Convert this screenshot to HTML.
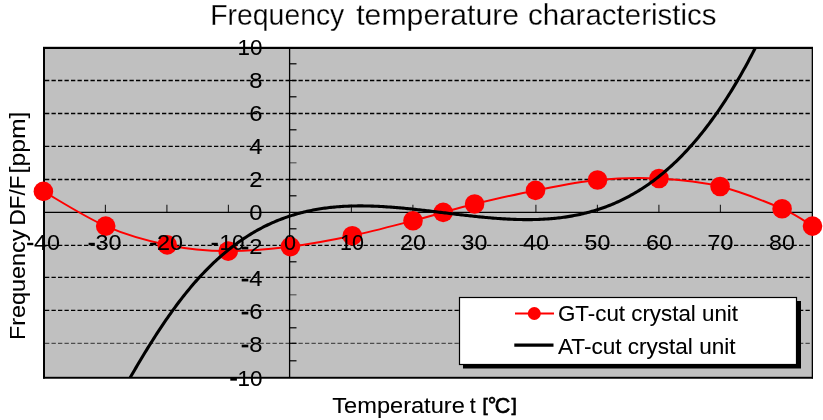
<!DOCTYPE html>
<html><head><meta charset="utf-8"><title>Frequency temperature characteristics</title>
<style>html,body{margin:0;padding:0;background:#fff;}body{width:823px;height:420px;overflow:hidden;font-family:"Liberation Sans",sans-serif;}svg{display:block;will-change:transform;}text{font-family:"Liberation Sans",sans-serif;}</style>
</head><body>
<svg width="823" height="420" viewBox="0 0 823 420">
<rect x="0" y="0" width="823" height="420" fill="#ffffff"/>
<defs><clipPath id="pc"><rect x="43" y="47" width="770" height="331"/></clipPath></defs>
<rect x="43" y="47" width="770" height="331.5" fill="#c0c0c0"/>
<line x1="45" x2="812" y1="343.3" y2="343.3" stroke="#000" stroke-width="1.3" stroke-dasharray="4.3 2.2" stroke-opacity="0.6"/>
<line x1="45" x2="812" y1="310.4" y2="310.4" stroke="#000" stroke-width="1.3" stroke-dasharray="4.3 2.2"/>
<line x1="45" x2="812" y1="277.4" y2="277.4" stroke="#000" stroke-width="1.3" stroke-dasharray="4.3 2.2"/>
<line x1="45" x2="812" y1="245.3" y2="245.3" stroke="#000" stroke-width="1.3" stroke-dasharray="4.3 2.2"/>
<line x1="45" x2="812" y1="179.5" y2="179.5" stroke="#000" stroke-width="1.3" stroke-dasharray="4.3 2.2"/>
<line x1="45" x2="812" y1="146.3" y2="146.3" stroke="#000" stroke-width="1.3" stroke-dasharray="4.3 2.2"/>
<line x1="45" x2="812" y1="113.5" y2="113.5" stroke="#000" stroke-width="1.3" stroke-dasharray="4.3 2.2"/>
<line x1="45" x2="812" y1="80.5" y2="80.5" stroke="#000" stroke-width="1.3" stroke-dasharray="4.3 2.2"/>
<rect x="43" y="47" width="2" height="331.5" fill="#000"/>
<rect x="43" y="46.8" width="770" height="2.2" fill="#000"/>
<rect x="811.7" y="47" width="1.3" height="331.5" fill="#000"/>
<rect x="43" y="376.8" width="770" height="1.9" fill="#000"/>
<line x1="44" x2="812" y1="212.3" y2="212.3" stroke="#000" stroke-width="1.3"/>
<line x1="289.6" x2="289.6" y1="48" y2="377" stroke="#000" stroke-width="1.3"/>
<line x1="105.4" x2="105.4" y1="204.8" y2="212.3" stroke="#000" stroke-width="1.1" stroke-opacity="0.85"/>
<line x1="166.9" x2="166.9" y1="204.8" y2="212.3" stroke="#000" stroke-width="1.1" stroke-opacity="0.85"/>
<line x1="228.4" x2="228.4" y1="204.8" y2="212.3" stroke="#000" stroke-width="1.1" stroke-opacity="0.85"/>
<line x1="351.4" x2="351.4" y1="204.8" y2="212.3" stroke="#000" stroke-width="1.1" stroke-opacity="0.85"/>
<line x1="412.9" x2="412.9" y1="204.8" y2="212.3" stroke="#000" stroke-width="1.1" stroke-opacity="0.85"/>
<line x1="474.4" x2="474.4" y1="204.8" y2="212.3" stroke="#000" stroke-width="1.1" stroke-opacity="0.85"/>
<line x1="535.9" x2="535.9" y1="204.8" y2="212.3" stroke="#000" stroke-width="1.1" stroke-opacity="0.85"/>
<line x1="597.4" x2="597.4" y1="204.8" y2="212.3" stroke="#000" stroke-width="1.1" stroke-opacity="0.85"/>
<line x1="658.9" x2="658.9" y1="204.8" y2="212.3" stroke="#000" stroke-width="1.1" stroke-opacity="0.85"/>
<line x1="720.4" x2="720.4" y1="204.8" y2="212.3" stroke="#000" stroke-width="1.1" stroke-opacity="0.85"/>
<line x1="781.9" x2="781.9" y1="204.8" y2="212.3" stroke="#000" stroke-width="1.1" stroke-opacity="0.85"/>
<line x1="289.6" x2="296.5" y1="360.8" y2="360.8" stroke="#000" stroke-width="1.2"/>
<line x1="289.6" x2="296.5" y1="343.3" y2="343.3" stroke="#000" stroke-width="1.2"/>
<line x1="289.6" x2="296.5" y1="327.8" y2="327.8" stroke="#000" stroke-width="1.2"/>
<line x1="289.6" x2="296.5" y1="310.4" y2="310.4" stroke="#000" stroke-width="1.2"/>
<line x1="289.6" x2="296.5" y1="294.8" y2="294.8" stroke="#000" stroke-width="1.2" stroke-opacity="0.55"/>
<line x1="289.6" x2="296.5" y1="277.4" y2="277.4" stroke="#000" stroke-width="1.2"/>
<line x1="289.6" x2="296.5" y1="261.8" y2="261.8" stroke="#000" stroke-width="1.2"/>
<line x1="289.6" x2="296.5" y1="245.3" y2="245.3" stroke="#000" stroke-width="1.2"/>
<line x1="289.6" x2="296.5" y1="228.8" y2="228.8" stroke="#000" stroke-width="1.2"/>
<line x1="289.6" x2="296.5" y1="195.8" y2="195.8" stroke="#000" stroke-width="1.2"/>
<line x1="289.6" x2="296.5" y1="179.5" y2="179.5" stroke="#000" stroke-width="1.2"/>
<line x1="289.6" x2="296.5" y1="162.8" y2="162.8" stroke="#000" stroke-width="1.2" stroke-opacity="0.55"/>
<line x1="289.6" x2="296.5" y1="146.3" y2="146.3" stroke="#000" stroke-width="1.2"/>
<line x1="289.6" x2="296.5" y1="129.8" y2="129.8" stroke="#000" stroke-width="1.2"/>
<line x1="289.6" x2="296.5" y1="113.5" y2="113.5" stroke="#000" stroke-width="1.2"/>
<line x1="289.6" x2="296.5" y1="96.8" y2="96.8" stroke="#000" stroke-width="1.2"/>
<line x1="289.6" x2="296.5" y1="80.5" y2="80.5" stroke="#000" stroke-width="1.2"/>
<line x1="289.6" x2="296.5" y1="63.8" y2="63.8" stroke="#000" stroke-width="1.2"/>
<path d="M43.40,191.40 C53.78,197.18 85.07,217.18 105.70,226.10 C126.33,235.02 146.78,240.73 167.20,244.90 C187.62,249.07 207.67,250.82 228.20,251.10 C248.73,251.38 269.72,249.17 290.40,246.60 C311.08,244.03 331.87,240.02 352.30,235.70 C372.73,231.38 397.85,224.58 413.00,220.70 C428.15,216.82 432.93,215.18 443.20,212.40 C453.47,209.62 459.22,207.67 474.60,204.00 C489.98,200.33 515.02,194.40 535.50,190.40 C555.98,186.40 576.92,181.98 597.50,180.00 C618.08,178.02 638.57,177.42 659.00,178.50 C679.43,179.58 699.58,181.47 720.10,186.50 C740.62,191.53 766.70,202.10 782.10,208.70 C797.50,215.30 807.43,223.20 812.50,226.10" fill="none" stroke="#ff0000" stroke-width="2.0" stroke-linejoin="round"/>
<circle cx="43.4" cy="191.4" r="9.8" fill="#ff0000"/>
<circle cx="105.7" cy="226.1" r="9.8" fill="#ff0000"/>
<circle cx="167.2" cy="244.9" r="9.8" fill="#ff0000"/>
<circle cx="228.2" cy="251.1" r="9.8" fill="#ff0000"/>
<circle cx="290.4" cy="246.6" r="9.8" fill="#ff0000"/>
<circle cx="352.3" cy="235.7" r="9.8" fill="#ff0000"/>
<circle cx="413.0" cy="220.7" r="9.8" fill="#ff0000"/>
<circle cx="443.2" cy="212.4" r="9.8" fill="#ff0000"/>
<circle cx="474.6" cy="204.0" r="9.8" fill="#ff0000"/>
<circle cx="535.5" cy="190.4" r="9.8" fill="#ff0000"/>
<circle cx="597.5" cy="180.0" r="9.8" fill="#ff0000"/>
<circle cx="659.0" cy="178.5" r="9.8" fill="#ff0000"/>
<circle cx="720.1" cy="186.5" r="9.8" fill="#ff0000"/>
<circle cx="782.1" cy="208.7" r="9.8" fill="#ff0000"/>
<circle cx="812.5" cy="226.1" r="9.8" fill="#ff0000"/>
<path d="M124.0,388.37 L125.5,385.74 L127.0,383.12 L128.5,380.50 L130.0,377.90 L131.5,375.31 L133.0,372.73 L134.5,370.16 L136.0,367.60 L137.5,365.05 L139.0,362.52 L140.5,360.01 L142.0,357.51 L143.5,355.02 L145.0,352.55 L146.5,350.10 L148.0,347.66 L149.5,345.25 L151.0,342.85 L152.5,340.47 L154.0,338.11 L155.5,335.77 L157.0,333.45 L158.5,331.14 L160.0,328.87 L161.5,326.61 L163.0,324.37 L164.5,322.16 L166.0,319.97 L167.5,317.80 L169.0,315.65 L170.5,313.53 L172.0,311.43 L173.5,309.35 L175.0,307.30 L176.5,305.27 L178.0,303.27 L179.5,301.29 L181.0,299.34 L182.5,297.40 L184.0,295.50 L185.5,293.62 L187.0,291.76 L188.5,289.93 L190.0,288.12 L191.5,286.34 L193.0,284.58 L194.5,282.84 L196.0,281.13 L197.5,279.45 L199.0,277.79 L200.5,276.15 L202.0,274.54 L203.5,272.95 L205.0,271.38 L206.5,269.84 L208.0,268.32 L209.5,266.82 L211.0,265.35 L212.5,263.89 L214.0,262.47 L215.5,261.06 L217.0,259.68 L218.5,258.32 L220.0,256.98 L221.5,255.66 L223.0,254.36 L224.5,253.09 L226.0,251.83 L227.5,250.60 L229.0,249.39 L230.5,248.20 L232.0,247.03 L233.5,245.88 L235.0,244.76 L236.5,243.65 L238.0,242.56 L239.5,241.49 L241.0,240.44 L242.5,239.42 L244.0,238.41 L245.5,237.42 L247.0,236.44 L248.5,235.49 L250.0,234.56 L251.5,233.65 L253.0,232.75 L254.5,231.87 L256.0,231.01 L257.5,230.17 L259.0,229.35 L260.5,228.54 L262.0,227.75 L263.5,226.98 L265.0,226.22 L266.5,225.49 L268.0,224.77 L269.5,224.06 L271.0,223.37 L272.5,222.70 L274.0,222.05 L275.5,221.41 L277.0,220.78 L278.5,220.18 L280.0,219.58 L281.5,219.01 L283.0,218.44 L284.5,217.90 L286.0,217.36 L287.5,216.84 L289.0,216.34 L290.5,215.85 L292.0,215.38 L293.5,214.91 L295.0,214.47 L296.5,214.03 L298.0,213.61 L299.5,213.20 L301.0,212.81 L302.5,212.43 L304.0,212.06 L305.5,211.70 L307.0,211.36 L308.5,211.02 L310.0,210.70 L311.5,210.40 L313.0,210.10 L314.5,209.82 L316.0,209.54 L317.5,209.28 L319.0,209.03 L320.5,208.79 L322.0,208.56 L323.5,208.34 L325.0,208.14 L326.5,207.94 L328.0,207.75 L329.5,207.57 L331.0,207.41 L332.5,207.25 L334.0,207.10 L335.5,206.96 L337.0,206.83 L338.5,206.71 L340.0,206.60 L341.5,206.50 L343.0,206.41 L344.5,206.32 L346.0,206.24 L347.5,206.18 L349.0,206.12 L350.5,206.06 L352.0,206.02 L353.5,205.98 L355.0,205.95 L356.5,205.93 L358.0,205.92 L359.5,205.91 L361.0,205.91 L362.5,205.91 L364.0,205.93 L365.5,205.94 L367.0,205.97 L368.5,206.00 L370.0,206.04 L371.5,206.08 L373.0,206.13 L374.5,206.19 L376.0,206.25 L377.5,206.32 L379.0,206.39 L380.5,206.47 L382.0,206.55 L383.5,206.64 L385.0,206.73 L386.5,206.83 L388.0,206.93 L389.5,207.03 L391.0,207.14 L392.5,207.26 L394.0,207.37 L395.5,207.50 L397.0,207.62 L398.5,207.75 L400.0,207.88 L401.5,208.02 L403.0,208.16 L404.5,208.30 L406.0,208.45 L407.5,208.59 L409.0,208.75 L410.5,208.90 L412.0,209.06 L413.5,209.21 L415.0,209.38 L416.5,209.54 L418.0,209.70 L419.5,209.87 L421.0,210.04 L422.5,210.21 L424.0,210.38 L425.5,210.56 L427.0,210.73 L428.5,210.91 L430.0,211.09 L431.5,211.26 L433.0,211.44 L434.5,211.62 L436.0,211.80 L437.5,211.99 L439.0,212.17 L440.5,212.35 L442.0,212.53 L443.5,212.71 L445.0,212.90 L446.5,213.08 L448.0,213.26 L449.5,213.44 L451.0,213.63 L452.5,213.81 L454.0,213.99 L455.5,214.17 L457.0,214.35 L458.5,214.52 L460.0,214.70 L461.5,214.88 L463.0,215.05 L464.5,215.22 L466.0,215.39 L467.5,215.56 L469.0,215.73 L470.5,215.90 L472.0,216.06 L473.5,216.22 L475.0,216.38 L476.5,216.54 L478.0,216.70 L479.5,216.85 L481.0,217.00 L482.5,217.15 L484.0,217.29 L485.5,217.43 L487.0,217.57 L488.5,217.70 L490.0,217.83 L491.5,217.96 L493.0,218.08 L494.5,218.20 L496.0,218.32 L497.5,218.43 L499.0,218.54 L500.5,218.64 L502.0,218.74 L503.5,218.83 L505.0,218.92 L506.5,219.01 L508.0,219.09 L509.5,219.16 L511.0,219.23 L512.5,219.30 L514.0,219.35 L515.5,219.41 L517.0,219.45 L518.5,219.49 L520.0,219.53 L521.5,219.56 L523.0,219.58 L524.5,219.60 L526.0,219.61 L527.5,219.61 L529.0,219.61 L530.5,219.60 L532.0,219.58 L533.5,219.55 L535.0,219.52 L536.5,219.48 L538.0,219.43 L539.5,219.38 L541.0,219.31 L542.5,219.24 L544.0,219.16 L545.5,219.07 L547.0,218.98 L548.5,218.87 L550.0,218.75 L551.5,218.63 L553.0,218.50 L554.5,218.36 L556.0,218.21 L557.5,218.04 L559.0,217.87 L560.5,217.69 L562.0,217.50 L563.5,217.30 L565.0,217.09 L566.5,216.87 L568.0,216.64 L569.5,216.40 L571.0,216.14 L572.5,215.88 L574.0,215.60 L575.5,215.31 L577.0,215.01 L578.5,214.70 L580.0,214.38 L581.5,214.05 L583.0,213.70 L584.5,213.34 L586.0,212.97 L587.5,212.58 L589.0,212.19 L590.5,211.78 L592.0,211.36 L593.5,210.92 L595.0,210.47 L596.5,210.01 L598.0,209.53 L599.5,209.04 L601.0,208.53 L602.5,208.01 L604.0,207.48 L605.5,206.93 L607.0,206.37 L608.5,205.79 L610.0,205.20 L611.5,204.59 L613.0,203.96 L614.5,203.32 L616.0,202.67 L617.5,202.00 L619.0,201.31 L620.5,200.61 L622.0,199.89 L623.5,199.15 L625.0,198.40 L626.5,197.62 L628.0,196.84 L629.5,196.03 L631.0,195.21 L632.5,194.37 L634.0,193.51 L635.5,192.64 L637.0,191.74 L638.5,190.83 L640.0,189.90 L641.5,188.95 L643.0,187.98 L644.5,186.99 L646.0,185.98 L647.5,184.96 L649.0,183.91 L650.5,182.85 L652.0,181.76 L653.5,180.65 L655.0,179.53 L656.5,178.38 L658.0,177.21 L659.5,176.02 L661.0,174.81 L662.5,173.58 L664.0,172.33 L665.5,171.05 L667.0,169.76 L668.5,168.44 L670.0,167.10 L671.5,165.74 L673.0,164.35 L674.5,162.94 L676.0,161.51 L677.5,160.06 L679.0,158.58 L680.5,157.08 L682.0,155.55 L683.5,154.00 L685.0,152.43 L686.5,150.83 L688.0,149.21 L689.5,147.56 L691.0,145.89 L692.5,144.20 L694.0,142.47 L695.5,140.73 L697.0,138.95 L698.5,137.15 L700.0,135.33 L701.5,133.48 L703.0,131.60 L704.5,129.69 L706.0,127.76 L707.5,125.80 L709.0,123.81 L710.5,121.80 L712.0,119.76 L713.5,117.69 L715.0,115.59 L716.5,113.46 L718.0,111.31 L719.5,109.13 L721.0,106.91 L722.5,104.67 L724.0,102.40 L725.5,100.10 L727.0,97.77 L728.5,95.41 L730.0,93.02 L731.5,90.60 L733.0,88.14 L734.5,85.66 L736.0,83.15 L737.5,80.60 L739.0,78.03 L740.5,75.42 L742.0,72.78 L743.5,70.10 L745.0,67.40 L746.5,64.66 L748.0,61.89 L749.5,59.09 L751.0,56.25 L752.5,53.38 L754.0,50.48 L755.5,47.54 L757.0,44.57 L758.5,41.56 L760.0,38.52 L761.5,35.45" fill="none" stroke="#000" stroke-width="3.1" stroke-linejoin="round" clip-path="url(#pc)"/>
<rect x="463" y="301" width="338" height="67.5" fill="#000"/>
<rect x="459.5" y="297.5" width="337" height="67" fill="#fff" stroke="#000" stroke-width="1.2"/>
<line x1="515" x2="554" y1="313.5" y2="313.5" stroke="#ff0000" stroke-width="2.2"/>
<circle cx="534.3" cy="313.5" r="6.5" fill="#ff0000"/>
<line x1="514.3" x2="553.5" y1="345.2" y2="345.2" stroke="#000" stroke-width="3.2"/>
<mask id="tm" maskUnits="userSpaceOnUse" x="0" y="0" width="823" height="420"><g fill="#fff" stroke="#000" style="paint-order:fill stroke">
<g stroke-width="0"><text x="558" y="320.9" font-size="21.5" textLength="180" lengthAdjust="spacingAndGlyphs">GT-cut crystal unit</text></g>
<g stroke-width="0"><text x="558" y="354.3" font-size="21.5" textLength="177.5" lengthAdjust="spacingAndGlyphs">AT-cut crystal unit</text></g>
<rect x="27.1" y="242.80" width="6.2" height="2.40" fill="#fff" stroke="none"/>
<g stroke-width="0"><text x="60.0" y="249.5" font-size="21.5" text-anchor="end" textLength="26.0" lengthAdjust="spacingAndGlyphs">40</text></g>
<rect x="88.6" y="242.80" width="6.2" height="2.40" fill="#fff" stroke="none"/>
<g stroke-width="0"><text x="121.5" y="249.5" font-size="21.5" text-anchor="end" textLength="26.0" lengthAdjust="spacingAndGlyphs">30</text></g>
<rect x="150.1" y="242.80" width="6.2" height="2.40" fill="#fff" stroke="none"/>
<g stroke-width="0"><text x="183.0" y="249.5" font-size="21.5" text-anchor="end" textLength="26.0" lengthAdjust="spacingAndGlyphs">20</text></g>
<rect x="211.6" y="242.80" width="6.2" height="2.40" fill="#fff" stroke="none"/>
<g stroke-width="0"><text x="244.5" y="249.5" font-size="21.5" text-anchor="end" textLength="24.9" lengthAdjust="spacingAndGlyphs">10</text></g>
<g stroke-width="0"><text x="289.9" y="249.5" font-size="21.5" text-anchor="middle" textLength="12.0" lengthAdjust="spacingAndGlyphs">0</text></g>
<g stroke-width="0"><text x="352.0" y="249.5" font-size="21.5" text-anchor="middle" textLength="23.9" lengthAdjust="spacingAndGlyphs">10</text></g>
<g stroke-width="0"><text x="412.9" y="249.5" font-size="21.5" text-anchor="middle" textLength="25.8" lengthAdjust="spacingAndGlyphs">20</text></g>
<g stroke-width="0"><text x="474.4" y="249.5" font-size="21.5" text-anchor="middle" textLength="25.8" lengthAdjust="spacingAndGlyphs">30</text></g>
<g stroke-width="0"><text x="535.9" y="249.5" font-size="21.5" text-anchor="middle" textLength="25.8" lengthAdjust="spacingAndGlyphs">40</text></g>
<g stroke-width="0"><text x="597.4" y="249.5" font-size="21.5" text-anchor="middle" textLength="25.8" lengthAdjust="spacingAndGlyphs">50</text></g>
<g stroke-width="0"><text x="658.9" y="249.5" font-size="21.5" text-anchor="middle" textLength="25.8" lengthAdjust="spacingAndGlyphs">60</text></g>
<g stroke-width="0"><text x="720.4" y="249.5" font-size="21.5" text-anchor="middle" textLength="25.8" lengthAdjust="spacingAndGlyphs">70</text></g>
<g stroke-width="0"><text x="781.9" y="249.5" font-size="21.5" text-anchor="middle" textLength="25.8" lengthAdjust="spacingAndGlyphs">80</text></g>
<g stroke-width="0"><text x="262.5" y="386.0" font-size="21.5" text-anchor="end" textLength="24.9" lengthAdjust="spacingAndGlyphs">10</text></g>
<rect x="230.3" y="377.95" width="6.6" height="2.70" fill="#fff" stroke="none"/>
<g stroke-width="0"><text x="262.5" y="352.0" font-size="21.5" text-anchor="end" textLength="13.2" lengthAdjust="spacingAndGlyphs">8</text></g>
<rect x="241.7" y="344.65" width="6.6" height="2.70" fill="#fff" stroke="none"/>
<g stroke-width="0"><text x="262.5" y="319.1" font-size="21.5" text-anchor="end" textLength="13.2" lengthAdjust="spacingAndGlyphs">6</text></g>
<rect x="241.7" y="311.75" width="6.6" height="2.70" fill="#fff" stroke="none"/>
<g stroke-width="0"><text x="262.5" y="286.1" font-size="21.5" text-anchor="end" textLength="13.2" lengthAdjust="spacingAndGlyphs">4</text></g>
<rect x="241.7" y="278.75" width="6.6" height="2.70" fill="#fff" stroke="none"/>
<g stroke-width="0"><text x="262.5" y="254.0" font-size="21.5" text-anchor="end" textLength="13.2" lengthAdjust="spacingAndGlyphs">2</text></g>
<rect x="241.7" y="246.65" width="6.6" height="2.70" fill="#fff" stroke="none"/>
<g stroke-width="0"><text x="262.5" y="220.0" font-size="21.5" text-anchor="end" textLength="13.2" lengthAdjust="spacingAndGlyphs">0</text></g>
<g stroke-width="0"><text x="262.5" y="187.2" font-size="21.5" text-anchor="end" textLength="13.2" lengthAdjust="spacingAndGlyphs">2</text></g>
<g stroke-width="0"><text x="262.5" y="154.0" font-size="21.5" text-anchor="end" textLength="13.2" lengthAdjust="spacingAndGlyphs">4</text></g>
<g stroke-width="0"><text x="262.5" y="121.2" font-size="21.5" text-anchor="end" textLength="13.2" lengthAdjust="spacingAndGlyphs">6</text></g>
<g stroke-width="0"><text x="262.5" y="88.2" font-size="21.5" text-anchor="end" textLength="13.2" lengthAdjust="spacingAndGlyphs">8</text></g>
<g stroke-width="0"><text x="262.5" y="55.0" font-size="21.5" text-anchor="end" textLength="24.9" lengthAdjust="spacingAndGlyphs">10</text></g>
<g stroke-width="0.35"><text x="210.3" y="24.9" font-size="28.6" textLength="134" lengthAdjust="spacingAndGlyphs">Frequency</text></g>
<g stroke-width="0.35"><text x="356.2" y="24.9" font-size="28.6" textLength="163" lengthAdjust="spacingAndGlyphs">temperature</text></g>
<g stroke-width="0.35"><text x="528" y="24.9" font-size="28.6" textLength="188.5" lengthAdjust="spacingAndGlyphs">characteristics</text></g>
<g stroke-width="0"><text x="332.3" y="412.7" font-size="21.5" textLength="132.5" lengthAdjust="spacingAndGlyphs">Temperature</text></g>
<g stroke-width="0"><text x="469.8" y="412.7" font-size="21.5">t</text></g>
<g stroke="#fff" stroke-width="0.5"><text x="482.6" y="410.6" font-size="19">[</text></g>
<g stroke="#fff" stroke-width="0.5"><text x="487.7" y="412.7" font-size="21.5">°</text></g>
<g stroke="#fff" stroke-width="0.5"><text x="494.8" y="412.7" font-size="21.5">C</text></g>
<g stroke="#fff" stroke-width="0.5"><text x="511.5" y="410.6" font-size="19">]</text></g>
<g stroke-width="0"><text transform="translate(24.8,340) rotate(-90)" font-size="21.5" textLength="110.5" lengthAdjust="spacingAndGlyphs">Frequency</text></g>
<g stroke-width="0"><text transform="translate(24.8,225.5) rotate(-90)" font-size="21.5" textLength="50" lengthAdjust="spacingAndGlyphs">DF/F</text></g>
<g stroke-width="0"><text transform="translate(24.8,173.5) rotate(-90)" font-size="21.5" textLength="62" lengthAdjust="spacingAndGlyphs">[ppm]</text></g>
</g></mask>
<rect x="0" y="0" width="823" height="420" fill="#000" mask="url(#tm)"/>
</svg></body></html>
